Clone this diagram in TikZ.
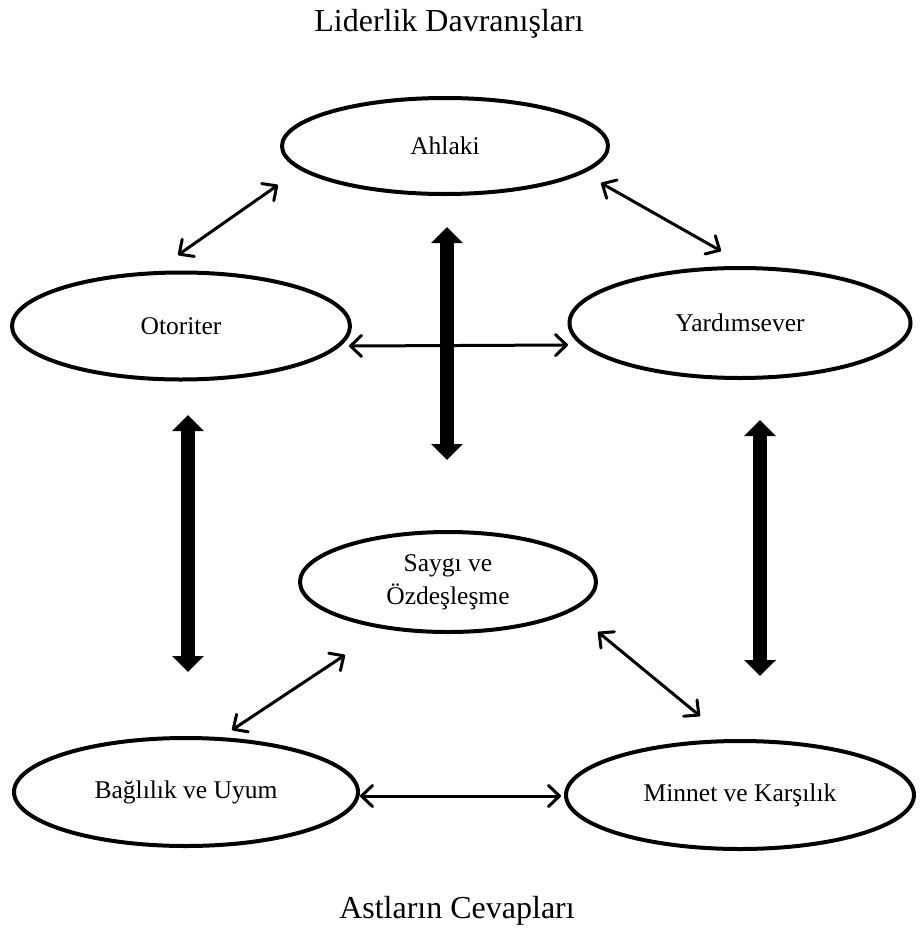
\documentclass[tikz,border=0pt]{standalone}
\usepackage{fontspec}
\setmainfont{Liberation Serif}
\usetikzlibrary{arrows.meta,shapes.geometric}
\begin{document}
\begin{tikzpicture}[x=1pt,y=-1pt,
  oval/.style={draw=black,line width=4pt,ellipse,inner sep=0pt,align=center,
    font=\fontsize{25.5}{33}\selectfont},
  thin/.style={line width=3pt,{Straight Barb[length=11pt,width=21pt,round]}-{Straight Barb[length=11pt,width=21pt,round]}},
  thick/.style={line width=13.5pt,{Triangle[length=16pt,width=31pt]}-{Triangle[length=16pt,width=31pt]}},
  heading/.style={font=\fontsize{32}{36}\selectfont}]
\useasboundingbox (0,0) rectangle (919,940);
\node[heading] (top) at (449,24) {Liderlik Davranışları};
\node[heading] (bot) at (457,911) {Astların Cevapları};
\node[oval,minimum width=326pt,minimum height=96pt] (ahl) at (445,146) {Ahlaki};
\node[oval,minimum width=338pt,minimum height=107pt] (oto) at (181,326) {Otoriter};
\node[oval,minimum width=341pt,minimum height=110pt] (yar) at (740,323) {Yardımsever};
\node[oval,minimum width=296pt,minimum height=100pt] (say) at (448,582) {Saygı ve\\Özdeşleşme};
\node[oval,minimum width=344pt,minimum height=108pt] (bag) at (186,792) {Bağlılık ve Uyum};
\node[oval,minimum width=348pt,minimum height=108pt] (min) at (740,795) {Minnet ve Karşılık};
% arrow end points
\coordinate (ao1) at (278,185); \coordinate (ao2) at (178,255);
\coordinate (ay1) at (601,183); \coordinate (ay2) at (721,251);
\coordinate (oy1) at (349,346); \coordinate (oy2) at (568,345);
\coordinate (c1) at (447,227); \coordinate (c2) at (447,460);
\coordinate (l1) at (188,415); \coordinate (l2) at (188,672);
\coordinate (r1) at (760,420); \coordinate (r2) at (760,676);
\coordinate (sb1) at (345,655); \coordinate (sb2) at (232,730);
\coordinate (sm1) at (598,632); \coordinate (sm2) at (700,716);
\coordinate (bm1) at (360,796); \coordinate (bm2) at (561,796);
\draw[thin] (ao1) -- (ao2);
\draw[thin] (ay1) -- (ay2);
\draw[thick] (c1) -- (c2);
\draw[thin] (oy1) -- (oy2);
\draw[thick] (l1) -- (l2);
\draw[thick] (r1) -- (r2);
\draw[thin] (sb1) -- (sb2);
\draw[thin] (sm1) -- (sm2);
\draw[thin] (bm1) -- (bm2);
\end{tikzpicture}
\end{document}
